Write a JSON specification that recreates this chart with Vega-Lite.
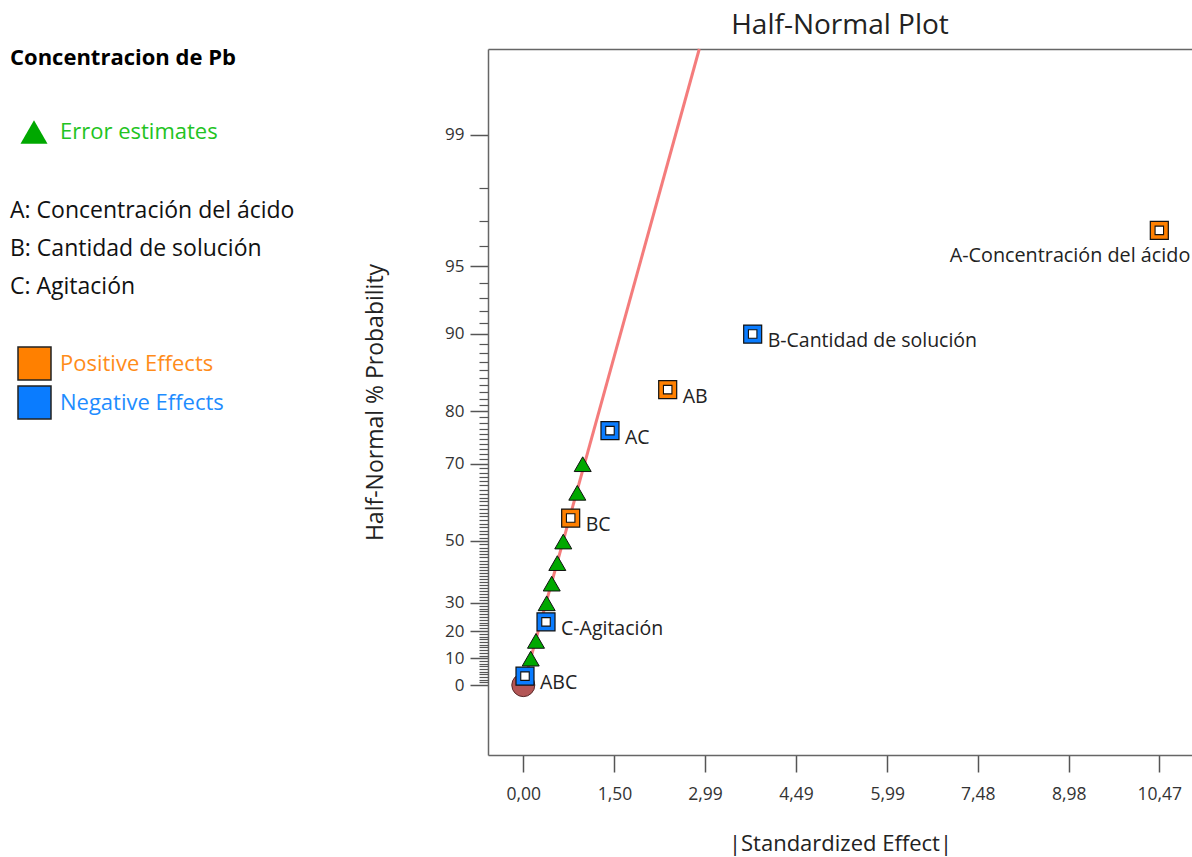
{
  "$schema": "https://vega.github.io/schema/vega-lite/v6.json",
  "width": 704,
  "height": 706,
  "autosize": "none",
  "padding": {"left": 488, "top": 49, "right": 0, "bottom": 102},
  "title": {"text": "Half-Normal Plot", "fontSize": 28, "fontWeight": "normal", "color": "#222222", "offset": 3, "anchor": "middle"},
  "config": {"font": "Open Sans", "view": {"stroke": null}},
  "datasets": {
    "effects": [
      {"term": "A-Concentración del ácido", "x": 10.47, "z": 2.128, "effect": "Positive Effects"},
      {"term": "B-Cantidad de solución", "x": 3.776, "z": 1.643, "effect": "Negative Effects"},
      {"term": "AB", "x": 2.377, "z": 1.383, "effect": "Positive Effects"},
      {"term": "AC", "x": 1.427, "z": 1.191, "effect": "Negative Effects"},
      {"term": "BC", "x": 0.78, "z": 0.782, "effect": "Positive Effects"},
      {"term": "C-Agitación", "x": 0.374, "z": 0.296, "effect": "Negative Effects"},
      {"term": "ABC", "x": 0.028, "z": 0.042, "effect": "Negative Effects"},
      {"term": "Error", "x": 0.978, "z": 1.034, "effect": "Error estimates"},
      {"term": "Error", "x": 0.889, "z": 0.9, "effect": "Error estimates"},
      {"term": "Error", "x": 0.658, "z": 0.672, "effect": "Error estimates"},
      {"term": "Error", "x": 0.56, "z": 0.571, "effect": "Error estimates"},
      {"term": "Error", "x": 0.468, "z": 0.475, "effect": "Error estimates"},
      {"term": "Error", "x": 0.385, "z": 0.383, "effect": "Error estimates"},
      {"term": "Error", "x": 0.209, "z": 0.207, "effect": "Error estimates"},
      {"term": "Error", "x": 0.122, "z": 0.124, "effect": "Error estimates"}
    ],
    "fit": [
      {"x": 0, "z": 0},
      {"x": 2.897, "z": 2.977}
    ],
    "origin": [
      {"x": 0, "z": 0}
    ]
  },
  "layer": [
    {
      "data": {"name": "fit"},
      "mark": {"type": "line", "color": "#f47c7c", "strokeWidth": 3},
      "encoding": {
        "x": {"field": "x", "type": "quantitative", "scale": {"domain": [-0.581, 11.008], "nice": false, "zero": false},
          "axis": {"orient": "bottom", "values": [0, 1.5, 2.99, 4.49, 5.99, 7.48, 8.98, 10.47],
            "labelExpr": "replace(format(datum.value, '.2f'), '.', ',')",
            "grid": false, "tickSize": 17, "tickColor": "#555555", "tickWidth": 1.5,
            "domainColor": "#666666", "domainWidth": 1.5,
            "labelFontSize": 17.5, "labelColor": "#333333", "labelPadding": 13,
            "title": "|Standardized Effect|", "titleFontSize": 22, "titleFontWeight": "normal", "titleColor": "#222222", "titlePadding": 31}},
        "y": {"field": "z", "type": "quantitative", "scale": {"domain": [-0.327, 2.977], "nice": false, "zero": false},
          "axis": {"orient": "left", "values": [0, 0.1257, 0.2533, 0.3853, 0.6745, 1.0364, 1.2816, 1.6449, 1.96, 2.5758],
            "labelExpr": "format(round(100 * (2 * cumulativeNormal(datum.value) - 1)), 'd')",
            "grid": false, "tickSize": 18, "tickColor": "#555555", "tickWidth": 1.5,
            "domainColor": "#666666", "domainWidth": 1.5,
            "labelFontSize": 17, "labelColor": "#333333", "labelPadding": 6,
            "title": "Half-Normal % Probability", "titleFontSize": 23, "titleFontWeight": "normal", "titleColor": "#222222", "titlePadding": 57}}
      }
    },
    {
      "data": {"name": "origin"},
      "mark": {"type": "point", "shape": "circle", "filled": true, "size": 529, "fill": "#b35656", "stroke": "#5a2a2a", "strokeWidth": 1, "opacity": 1},
      "encoding": {
        "x": {"field": "x", "type": "quantitative", "scale": {"domain": [-0.581, 11.008], "nice": false, "zero": false},
          "axis": {"orient": "top", "ticks": false, "labels": false, "grid": false, "title": null, "domainColor": "#666666", "domainWidth": 1.5}},
        "y": {"field": "z", "type": "quantitative", "scale": {"domain": [-0.327, 2.977], "nice": false, "zero": false},
          "axis": {"orient": "left", "labels": false, "domain": false, "grid": false, "title": null, "tickSize": 9, "tickColor": "#555555", "tickWidth": 1.2,
            "values": [0.0125, 0.0251, 0.0376, 0.0502, 0.0627, 0.0753, 0.0878, 0.1004, 0.113,
              0.1383, 0.151, 0.1637, 0.1764, 0.1891, 0.2019, 0.2147, 0.2275, 0.2404,
              0.2663, 0.2793, 0.2924, 0.3055, 0.3186, 0.3319, 0.3451, 0.3585, 0.3719,
              0.3989, 0.4125, 0.4261, 0.4399, 0.4538, 0.4677, 0.4817, 0.4959, 0.5101, 0.5244, 0.5388, 0.5534, 0.5681, 0.5828, 0.5978, 0.6128, 0.628, 0.6433, 0.6588,
              0.6903, 0.7063, 0.7225, 0.7388, 0.7554, 0.7722, 0.7892, 0.8064, 0.8239, 0.8416, 0.8596, 0.8779, 0.8965, 0.9154, 0.9346, 0.9542, 0.9741, 0.9945, 1.0152,
              1.0581, 1.0803, 1.1031, 1.1264, 1.1503, 1.175, 1.2004, 1.2265, 1.2536,
              1.3106, 1.3408, 1.3722, 1.4051, 1.4395, 1.4758, 1.5141, 1.5548, 1.5982,
              1.6954, 1.7507, 1.8119, 1.8808,
              2.0537, 2.1701, 2.3263]}}
      }
    },
    {
      "data": {"name": "effects"},
      "transform": [{"filter": "datum.effect == 'Error estimates'"}],
      "mark": {"type": "point", "filled": true, "size": 289, "fill": "#00a800", "stroke": "#111111", "strokeWidth": 1, "opacity": 1},
      "encoding": {
        "x": {"field": "x", "type": "quantitative", "scale": {"domain": [-0.581, 11.008], "nice": false, "zero": false}, "axis": null},
        "y": {"field": "z", "type": "quantitative", "scale": {"domain": [-0.327, 2.977], "nice": false, "zero": false}, "axis": null},
        "shape": {"field": "effect", "type": "nominal",
          "scale": {"domain": ["Error estimates"], "range": ["triangle-up"]},
          "legend": {"orient": "none", "legendX": -478, "legendY": -1, "padding": 0,
            "title": "Concentracion de Pb", "titleFontSize": 22, "titleFontWeight": "bold", "titleColor": "#000000", "titlePadding": 48, "titleLimit": 400,
            "symbolType": "M0,-1L1,1L-1,1Z", "symbolSize": 729, "symbolFillColor": "#00a800", "symbolStrokeColor": "#111111", "symbolStrokeWidth": 1, "symbolOffset": 10,
            "labelFontSize": 22, "labelColor": "#22c322", "labelOffset": 12, "labelLimit": 300}}
      }
    },
    {
      "data": {"name": "effects"},
      "transform": [{"filter": "datum.effect != 'Error estimates'"}],
      "mark": {"type": "point", "shape": "square", "filled": true, "size": 324, "stroke": "#111111", "strokeWidth": 1.2, "opacity": 1},
      "encoding": {
        "x": {"field": "x", "type": "quantitative", "scale": {"domain": [-0.581, 11.008], "nice": false, "zero": false}, "axis": null},
        "y": {"field": "z", "type": "quantitative", "scale": {"domain": [-0.327, 2.977], "nice": false, "zero": false}, "axis": null},
        "fill": {"field": "effect", "type": "nominal",
          "scale": {"domain": ["Positive Effects", "Negative Effects"], "range": ["#ff8000", "#0a7cff"]},
          "legend": {"orient": "none", "legendX": -478, "legendY": 151, "padding": 0,
            "title": ["A: Concentración del ácido", "B: Cantidad de solución", "C: Agitación"],
            "titleFontSize": 23, "titleFontWeight": "normal", "titleColor": "#111111", "titleLineHeight": 38, "titlePadding": 47, "titleLimit": 400,
            "symbolType": "square", "symbolSize": 1089, "symbolStrokeColor": "#222222", "symbolStrokeWidth": 1.5, "symbolOffset": 7, "symbolOpacity": 1,
            "rowPadding": 0,
            "labelFontSize": 22, "labelOffset": 8, "labelLimit": 300,
            "labelColor": {"expr": "datum.label == 'Positive Effects' ? '#ff8c1a' : '#1e8cff'"}}}
      }
    },
    {
      "data": {"name": "effects"},
      "transform": [{"filter": "datum.effect != 'Error estimates'"}],
      "mark": {"type": "point", "shape": "square", "filled": true, "size": 72, "fill": "#ffffff", "stroke": "#111111", "strokeWidth": 1.1, "opacity": 1},
      "encoding": {
        "x": {"field": "x", "type": "quantitative", "scale": {"domain": [-0.581, 11.008], "nice": false, "zero": false}, "axis": null},
        "y": {"field": "z", "type": "quantitative", "scale": {"domain": [-0.327, 2.977], "nice": false, "zero": false}, "axis": null}
      }
    },
    {
      "data": {"name": "effects"},
      "transform": [{"filter": "datum.effect != 'Error estimates' && datum.term != 'A-Concentración del ácido'"}],
      "mark": {"type": "text", "align": "left", "baseline": "middle", "dx": 15, "dy": 7, "fontSize": 19.5, "color": "#222222"},
      "encoding": {
        "x": {"field": "x", "type": "quantitative", "scale": {"domain": [-0.581, 11.008], "nice": false, "zero": false}, "axis": null},
        "y": {"field": "z", "type": "quantitative", "scale": {"domain": [-0.327, 2.977], "nice": false, "zero": false}, "axis": null},
        "text": {"field": "term"}
      }
    },
    {
      "data": {"name": "effects"},
      "transform": [{"filter": "datum.term == 'A-Concentración del ácido'"}],
      "mark": {"type": "text", "align": "right", "baseline": "middle", "dx": 31, "dy": 26, "fontSize": 19.8, "color": "#222222"},
      "encoding": {
        "x": {"field": "x", "type": "quantitative", "scale": {"domain": [-0.581, 11.008], "nice": false, "zero": false}, "axis": null},
        "y": {"field": "z", "type": "quantitative", "scale": {"domain": [-0.327, 2.977], "nice": false, "zero": false}, "axis": null},
        "text": {"field": "term"}
      }
    }
  ],
  "resolve": {"axis": {"x": "independent", "y": "independent"}}
}
